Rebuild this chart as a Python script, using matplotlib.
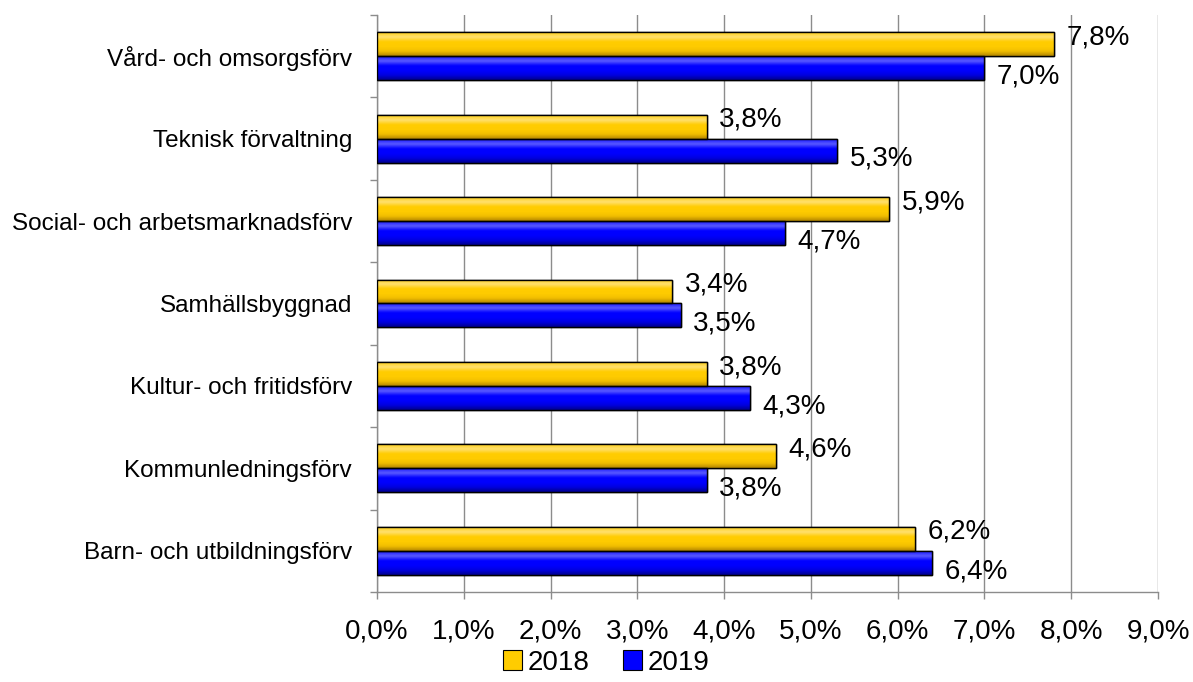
import numpy as np
import matplotlib
matplotlib.use("Agg")
import matplotlib.pyplot as plt
from matplotlib.colors import LinearSegmentedColormap
from matplotlib.patches import Patch
from matplotlib.ticker import FixedLocator

plt.rcParams['font.family'] = ['Liberation Sans', 'DejaVu Sans']

categories = [
    "Barn- och utbildningsförv",
    "Kommunledningsförv",
    "Kultur- och fritidsförv",
    "Samhällsbyggnad",
    "Social- och arbetsmarknadsförv",
    "Teknisk förvaltning",
    "Vård- och omsorgsförv",
]
values_2018 = [6.2, 4.6, 3.8, 3.4, 5.9, 3.8, 7.8]
values_2019 = [6.4, 3.8, 4.3, 3.5, 4.7, 5.3, 7.0]
series_labels = ["2018", "2019"]
x_ticks = [0, 1, 2, 3, 4, 5, 6, 7, 8, 9]

fig = plt.figure(figsize=(11.93, 6.82), dpi=100)
ax = fig.add_axes([0.316, 0.132, 0.9707 - 0.316, 0.978 - 0.132])

ypos = np.arange(len(categories))
h = 0.29

yellow_cmap = LinearSegmentedColormap.from_list(
    "yel", ["#b38600", "#f2bf00", "#ffcc00", "#ffcc00", "#ffe070", "#ffd21a"])
blue_cmap = LinearSegmentedColormap.from_list(
    "blu", ["#00008c", "#0000e0", "#0000ff", "#0000ff", "#5a5aff", "#1a1aff"])
grad = np.linspace(0, 1, 64).reshape(-1, 1)


def gradient_bars(y, vals, cmap, base):
    bars = ax.barh(y, vals, height=h, color=base, edgecolor="black",
                   linewidth=1.0, zorder=3)
    for b in bars:
        x0, y0 = b.get_x(), b.get_y()
        w, hh = b.get_width(), b.get_height()
        im = ax.imshow(grad, cmap=cmap, aspect="auto", origin="lower",
                       extent=[x0, x0 + w, y0, y0 + hh], zorder=3.5,
                       interpolation="bicubic")
        im.set_clip_path(b)
        # outline drawn again on top of the gradient fill
        ax.add_patch(plt.Rectangle((x0, y0), w, hh, fill=False,
                                   edgecolor="black", linewidth=1.0, zorder=4))
    return bars


gradient_bars(ypos + h / 2, values_2018, yellow_cmap, "#ffcc00")
gradient_bars(ypos - h / 2, values_2019, blue_cmap, "#0000ff")


def fmt(v):
    return f"{v:.1f}%".replace(".", ",")


for y, v in zip(ypos, values_2018):
    ax.annotate(fmt(v), (v, y + h / 2), xytext=(9, 5), textcoords="offset points",
                ha="left", va="center", fontsize=20, zorder=5)
for y, v in zip(ypos, values_2019):
    ax.annotate(fmt(v), (v, y - h / 2), xytext=(9, -6), textcoords="offset points",
                ha="left", va="center", fontsize=20, zorder=5)

ax.set_xlim(0, 9)
ax.set_ylim(-0.5, len(categories) - 0.5)
ax.set_xticks(x_ticks)
ax.set_xticklabels([f"{t:.1f}%".replace(".", ",") for t in x_ticks], fontsize=20)
ax.set_yticks(ypos)
ax.set_yticklabels(categories, fontsize=17.5)
ax.yaxis.set_minor_locator(FixedLocator(np.arange(-0.5, len(categories), 1.0)))

ax.grid(axis="x", color="#8c8c8c", linewidth=1.0, zorder=0)
ax.set_axisbelow(True)
for s in ["top", "right"]:
    ax.spines[s].set_visible(False)
for s in ["left", "bottom"]:
    ax.spines[s].set_color("#8c8c8c")
    ax.spines[s].set_linewidth(1.0)

ax.tick_params(axis="y", which="major", length=0, pad=18)
ax.tick_params(axis="y", which="minor", length=5, color="#8c8c8c", width=1.0)
ax.tick_params(axis="x", which="major", length=5, color="#8c8c8c", width=1.0,
               pad=14)

handles = [Patch(facecolor="#ffcc00", edgecolor="black", linewidth=0.8),
           Patch(facecolor="#0000ff", edgecolor="black", linewidth=0.8)]
fig.legend(handles, series_labels, loc="center", bbox_to_anchor=(0.508, 0.028),
           ncol=2, frameon=False, fontsize=20, handlelength=0.7,
           handleheight=0.7, handletextpad=0.2, columnspacing=1.2)

fig.savefig("out.png", dpi=100)
